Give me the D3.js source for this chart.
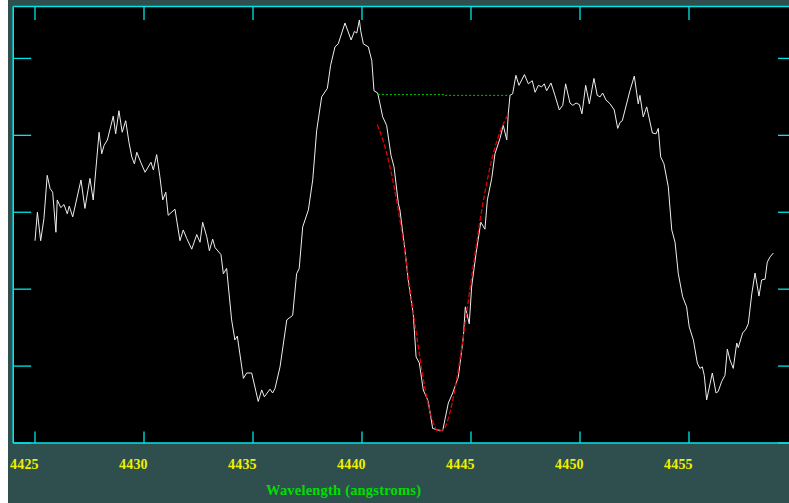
<!DOCTYPE html>
<html>
<head>
<meta charset="utf-8">
<script src="https://cdn.jsdelivr.net/npm/d3@7"></script>
<style>
    html, body { margin: 0; padding: 0; background: #ffffff; }
    svg { display: block; }
</style>
</head>
<body>
<svg id="chart" width="789" height="503"></svg>
<script>
// spectrum (wavelength in angstroms, relative intensity)
const wavelength = [
    4425.00, 4425.11, 4425.26, 4425.41, 4425.56, 4425.69, 4425.81, 4425.96, 4426.02, 4426.18,
    4426.33, 4426.48, 4426.57, 4426.73, 4427.11, 4427.29, 4427.52, 4427.67, 4427.94, 4428.06,
    4428.17, 4428.32, 4428.59, 4428.70, 4428.85, 4429.00, 4429.16, 4429.31, 4429.44, 4429.56,
    4429.67, 4429.85, 4430.05, 4430.32, 4430.43, 4430.58, 4430.73, 4430.86, 4431.00, 4431.11,
    4431.42, 4431.65, 4431.80, 4431.96, 4432.19, 4432.42, 4432.57, 4432.69, 4432.88, 4433.00,
    4433.15, 4433.26, 4433.53, 4433.64, 4433.79, 4434.02, 4434.17, 4434.28, 4434.56, 4434.71,
    4434.94, 4435.24, 4435.40, 4435.52, 4435.78, 4435.90, 4436.01, 4436.24, 4436.55, 4436.82,
    4437.00, 4437.12, 4437.28, 4437.54, 4437.74, 4437.92, 4438.15, 4438.41, 4438.56, 4438.76,
    4438.91, 4439.22, 4439.50, 4439.65, 4439.76, 4439.88, 4439.94, 4440.06, 4440.29, 4440.45,
    4440.55, 4440.72, 4440.95, 4441.13, 4441.33, 4441.47, 4441.67, 4441.74, 4441.97, 4442.12,
    4442.35, 4442.48, 4442.63, 4442.81, 4443.04, 4443.24, 4443.45, 4443.70, 4443.96, 4444.16,
    4444.42, 4444.65, 4444.74, 4444.92, 4445.03, 4445.23, 4445.45, 4445.64, 4445.75, 4445.95,
    4446.10, 4446.33, 4446.48, 4446.64, 4446.71, 4446.79, 4446.91, 4447.06, 4447.20, 4447.45,
    4447.63, 4447.81, 4447.94, 4448.09, 4448.24, 4448.36, 4448.47, 4448.67, 4448.85, 4449.05,
    4449.21, 4449.34, 4449.54, 4449.67, 4449.82, 4449.97, 4450.09, 4450.26, 4450.43, 4450.64,
    4450.79, 4450.92, 4451.04, 4451.19, 4451.38, 4451.57, 4451.73, 4451.84, 4451.94, 4452.29,
    4452.49, 4452.67, 4452.75, 4452.90, 4453.06, 4453.32, 4453.49, 4453.59, 4453.70, 4453.85,
    4454.05, 4454.21, 4454.36, 4454.51, 4454.71, 4454.89, 4455.01, 4455.20, 4455.38, 4455.50,
    4455.61, 4455.70, 4455.81, 4456.07, 4456.24, 4456.34, 4456.50, 4456.65, 4456.76, 4456.88,
    4457.03, 4457.19, 4457.26, 4457.46, 4457.61, 4457.72, 4457.88, 4458.03, 4458.21, 4458.33,
    4458.49, 4458.59, 4458.72, 4458.87
];
const intensity = [
    26.3, 30.0, 26.3, 29.2, 34.8, 33.1, 32.6, 27.4, 31.6, 30.6,
    31.0, 29.8, 30.8, 29.4, 34.2, 30.5, 34.4, 31.6, 40.4, 37.6,
    38.7, 39.4, 42.5, 40.2, 43.2, 40.4, 41.9, 39.1, 37.2, 36.3,
    37.8, 36.5, 35.2, 36.5, 35.5, 37.5, 34.6, 31.6, 32.6, 29.6,
    30.4, 26.3, 27.7, 26.6, 25.2, 27.1, 26.1, 28.7, 26.8, 25.0,
    26.5, 25.4, 24.5, 22.0, 22.7, 16.0, 13.4, 13.9, 8.4, 9.1,
    9.1, 5.4, 6.9, 6.0, 7.0, 6.5, 7.1, 9.9, 16.0, 16.6,
    22.0, 22.7, 28.1, 30.3, 34.2, 40.6, 45.0, 46.1, 49.1, 51.5,
    51.9, 54.6, 52.4, 53.5, 53.3, 55.0, 53.6, 51.9, 51.5, 49.7,
    45.8, 45.5, 42.4, 41.3, 37.4, 35.9, 31.1, 30.3, 25.1, 21.2,
    16.8, 11.2, 10.4, 6.9, 5.4, 1.9, 1.7, 1.6, 5.2, 6.5,
    8.6, 13.8, 17.7, 15.5, 20.3, 24.6, 28.7, 27.8, 31.6, 34.4,
    37.6, 39.6, 41.3, 39.4, 42.8, 45.2, 45.4, 47.8, 46.5, 47.9,
    46.7, 47.1, 45.6, 46.5, 46.3, 46.7, 45.8, 46.8, 45.2, 43.3,
    43.9, 46.7, 44.2, 43.9, 44.2, 44.0, 42.8, 46.5, 44.1, 47.4,
    45.2, 45.0, 45.5, 44.6, 44.1, 43.3, 40.9, 41.7, 41.9, 45.8,
    47.7, 44.1, 45.2, 42.4, 43.7, 40.3, 40.2, 40.9, 37.2, 36.3,
    33.3, 27.7, 26.1, 22.0, 19.0, 17.7, 15.1, 13.4, 10.4, 9.7,
    9.9, 8.8, 5.6, 9.1, 6.5, 6.7, 8.0, 8.8, 12.2, 10.8,
    9.7, 13.0, 12.4, 14.3, 14.8, 15.5, 19.4, 22.1, 19.1, 21.2,
    21.3, 23.5, 24.2, 24.7
];

// red dashed line profile fit across the absorption line
const fitWavelength = [
    4440.70, 4441.00, 4441.25, 4441.50, 4441.75, 4442.00, 4442.25, 4442.50, 4442.75, 4443.00,
    4443.25, 4443.50, 4443.75, 4444.00, 4444.25, 4444.50, 4444.75, 4445.00, 4445.25, 4445.50,
    4445.75, 4446.00, 4446.25, 4446.50, 4446.72
];
const fitIntensity = [
    41.4, 39.0, 36.3, 32.9, 28.8, 24.2, 19.1, 14.1, 9.4, 5.5,
    2.8, 1.5, 1.8, 3.6, 6.8, 11.0, 15.9, 21.0, 25.9, 30.4,
    34.2, 37.4, 39.8, 41.6, 42.8
];

// green dotted continuum level
const contWavelength = [4440.73, 4443.75, 4443.75, 4446.79];
const contIntensity = [45.3, 45.3, 45.2, 45.2];

const xTicks = [4425, 4430, 4435, 4440, 4445, 4450, 4455];
const yTicks = [0, 10, 20, 30, 40, 50];

const width = 789;
const height = 503;
const plot = { left: 13.2, right: 798, top: 6.5, bottom: 443 };
const frameColor = "#00e5e8";
const serif = "'Liberation Serif', 'DejaVu Serif', serif";

const svg = d3.select("#chart");

const x = d3.scaleLinear()
    .domain([4424, 4460])
    .range([plot.left, plot.right]);

const y = d3.scaleLinear()
    .domain([0, 56.75])
    .range([plot.bottom, plot.top]);

// background: thin white strip then slate panel
svg.append("rect")
    .attr("x", 8).attr("y", 0)
    .attr("width", width - 8).attr("height", height)
    .attr("fill", "#2f4f4f");

svg.append("rect")
    .attr("x", plot.left).attr("y", plot.top)
    .attr("width", plot.right - plot.left)
    .attr("height", plot.bottom - plot.top)
    .attr("fill", "#000000");

// frame lines
const frame = svg.append("g")
    .attr("stroke", frameColor)
    .attr("stroke-width", 1.6)
    .attr("fill", "none");

frame.append("line")
    .attr("x1", plot.left).attr("x2", plot.right)
    .attr("y1", plot.top).attr("y2", plot.top);
frame.append("line")
    .attr("x1", plot.left).attr("x2", plot.right)
    .attr("y1", plot.bottom).attr("y2", plot.bottom);
frame.append("line")
    .attr("x1", plot.left).attr("x2", plot.left)
    .attr("y1", plot.top).attr("y2", plot.bottom);

// x ticks, top and bottom, drawn inward
const tickG = svg.append("g")
    .attr("stroke", frameColor)
    .attr("stroke-width", 1.3);

tickG.selectAll("line.xt-top")
    .data(xTicks)
    .enter()
    .append("line")
    .attr("class", "xt-top")
    .attr("x1", d => x(d)).attr("x2", d => x(d))
    .attr("y1", plot.top).attr("y2", plot.top + 13.5);

tickG.selectAll("line.xt-bot")
    .data(xTicks)
    .enter()
    .append("line")
    .attr("class", "xt-bot")
    .attr("x1", d => x(d)).attr("x2", d => x(d))
    .attr("y1", plot.bottom).attr("y2", plot.bottom - 11.5);

// y ticks, left and right
tickG.selectAll("line.yt-left")
    .data(yTicks)
    .enter()
    .append("line")
    .attr("class", "yt-left")
    .attr("x1", plot.left).attr("x2", plot.left + 18)
    .attr("y1", d => y(d)).attr("y2", d => y(d));

tickG.selectAll("line.yt-right")
    .data(yTicks)
    .enter()
    .append("line")
    .attr("class", "yt-right")
    .attr("x1", 778).attr("x2", plot.right)
    .attr("y1", d => y(d)).attr("y2", d => y(d));

// tick labels
svg.selectAll("text.xlabel")
    .data(xTicks)
    .enter()
    .append("text")
    .attr("class", "xlabel")
    .attr("x", d => x(d) - 25)
    .attr("y", 469)
    .style("font-family", serif)
    .style("font-weight", "bold")
    .style("font-size", "14px")
    .style("letter-spacing", "0.2px")
    .style("fill", "#f0f000")
    .text(d => d);

svg.append("text")
    .attr("x", 266)
    .attr("y", 495)
    .style("font-family", serif)
    .style("font-weight", "bold")
    .style("font-size", "14.5px")
    .style("letter-spacing", "0.2px")
    .style("fill", "#00dd00")
    .text("Wavelength (angstroms)");

// clip the data to the plot area
svg.append("clipPath")
    .attr("id", "plot-clip")
    .append("rect")
    .attr("x", plot.left).attr("y", plot.top)
    .attr("width", plot.right - plot.left)
    .attr("height", plot.bottom - plot.top);

const dataG = svg.append("g").attr("clip-path", "url(#plot-clip)");

const line = d3.line()
    .x(d => x(d[0]))
    .y(d => y(d[1]));

dataG.append("path")
    .datum(d3.zip(wavelength, intensity))
    .attr("d", line)
    .attr("fill", "none")
    .attr("stroke", "#eeeeee")
    .attr("stroke-width", 1);

dataG.append("path")
    .datum(d3.zip(contWavelength, contIntensity))
    .attr("d", line)
    .attr("fill", "none")
    .attr("stroke", "#00c800")
    .attr("stroke-width", 1)
    .attr("stroke-dasharray", "2,2");

dataG.append("path")
    .datum(d3.zip(fitWavelength, fitIntensity))
    .attr("d", line.curve(d3.curveMonotoneX))
    .attr("fill", "none")
    .attr("stroke", "#e00000")
    .attr("stroke-width", 1.3)
    .attr("stroke-dasharray", "5,2");
</script>
</body>
</html>
